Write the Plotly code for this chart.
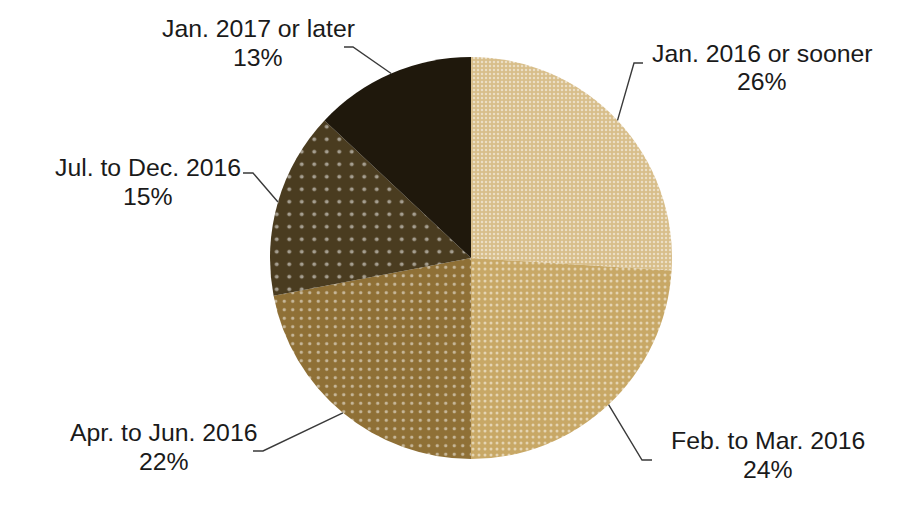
import math
import plotly.graph_objects as go

# ---- data ----
categories = ["Jan. 2016 or sooner", "Feb. to Mar. 2016", "Apr. to Jun. 2016",
              "Jul. to Dec. 2016", "Jan. 2017 or later"]
shares = [26, 24, 22, 15, 13]

# ---- style ----
colors = ["#d8be8a", "#c8a866", "#8f7036", "#4a3c20", "#1f180c"]
pattern_shapes = [".", ".", ".", ".", ""]
pattern_sizes = [4, 6, 8.5, 12.5, 8]
pattern_solidity = [0.3, 0.2, 0.12, 0.08, 0.1]

W, H = 897, 526
OFF = 8                     # page offset of the plot div
CX, CY, R = 471 - OFF, 258 - OFF, 201   # pie centre / radius in pixels
LINE_GAP = 14.5

# label block centres and leader "knee" points (layout, pixels, page coords)
label_pos = [(762, 67.5), (768, 455), (164, 447), (148, 182), (258, 43)]
knees = [((643, 63), (634, 63)), ((652, 460), (642, 460)), ((253, 451), (263, 451)),
         ((243, 173), (253, 173)), ((344, 47), (353, 47))]

def px(x):
    return x / W

def py(y):
    return 1 - y / H

fig = go.Figure(go.Pie(
    labels=categories,
    values=shares,
    sort=False,
    direction="clockwise",
    rotation=0,
    textinfo="none",
    hoverinfo="label+percent",
    marker=dict(
        colors=colors,
        line=dict(width=0),
        pattern=dict(shape=pattern_shapes, fgcolor="#ffffff", fillmode="overlay",
                     size=pattern_sizes, solidity=pattern_solidity),
    ),
    domain=dict(x=[px(CX - R), px(CX + R)], y=[py(CY + R), py(CY - R)]),
    showlegend=False,
))

total = sum(shares)
cum = 0
shapes = []
annotations = []
font = dict(family="Liberation Sans, Arial, sans-serif", size=24.8, color="#1a1a1a")
for i, (cat, v) in enumerate(zip(categories, shares)):
    mid = (cum + v / 2) / total * 2 * math.pi
    cum += v
    ex = CX + R * math.sin(mid)
    ey = CY - R * math.cos(mid)
    (ax, ay), (kx, ky) = knees[i]
    ax, ay, kx, ky = ax - OFF, ay - OFF, kx - OFF, ky - OFF
    path = f"M {px(ax)},{py(ay)} L {px(kx)},{py(ky)} L {px(ex)},{py(ey)}"
    shapes.append(dict(type="path", path=path, xref="paper", yref="paper",
                       line=dict(color="#3a3a3a", width=1.4)))
    lx, ly = label_pos[i]
    for txt, dy in ((cat, -LINE_GAP), (f"{v}%", LINE_GAP)):
        annotations.append(dict(
            x=px(lx - OFF), y=py(ly - OFF + dy), xref="paper", yref="paper",
            text=txt, showarrow=False, align="center",
            xanchor="center", yanchor="middle", font=font,
        ))

fig.update_layout(
    width=W, height=H,
    margin=dict(l=0, r=0, t=0, b=0),
    paper_bgcolor="white",
    plot_bgcolor="white",
    shapes=shapes,
    annotations=annotations,
)

fig.write_html("out.html")
